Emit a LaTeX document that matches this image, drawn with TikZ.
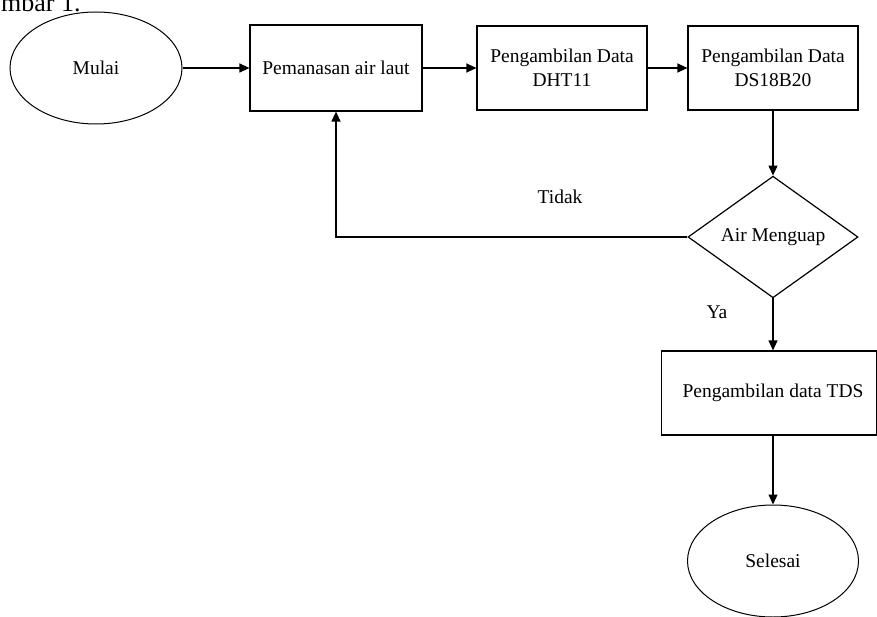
\documentclass[tikz,border=0pt]{standalone}
\usepackage{fontspec}
\setmainfont{Liberation Serif}
\usetikzlibrary{arrows.meta,shapes.geometric}
\begin{document}
\begin{tikzpicture}[x=1pt,y=-1pt,
  every node/.style={font=\fontsize{19.5}{24}\selectfont, align=center},
  box/.style={draw, line width=1.2pt, inner sep=0pt},
  oval/.style={draw, ellipse, line width=1pt, inner sep=0pt},
  flow/.style={line width=1.2pt, -{Triangle[length=10pt,width=9pt]}},
  plain/.style={line width=1.2pt}
]
\useasboundingbox (0,0) rectangle (877,617);
\begin{scope}
\clip (0,0) rectangle (877,617);
\node[anchor=base west, font=\fontsize{26}{28}\selectfont, inner sep=0pt] (cap) at (1,12) {mbar 1.};
\node[oval, minimum width=172pt, minimum height=112pt] (mulai) at (96,68) {Mulai};
\node[box, minimum width=172pt, minimum height=86pt] (heat) at (336,68) {Pemanasan air laut};
\node[box, minimum width=170pt, minimum height=84pt] (dht) at (562,68) {Pengambilan Data\\DHT11};
\node[box, minimum width=170pt, minimum height=84pt] (ds) at (773,68) {Pengambilan Data\\DS18B20};
\node[diamond, draw, line width=1.2pt, minimum width=170pt, minimum height=112pt, inner sep=0pt] (dec) at (773,237) {Air Menguap};
\node[box, minimum width=215pt, minimum height=84pt, anchor=west] (tds) at (661,393) {};
\node (tdst) at (773,393) {Pengambilan data TDS};
\node[oval, minimum width=171pt, minimum height=112pt] (selesai) at (773,561) {Selesai};
\node (tidak) at (560,197) {Tidak};
\node (ya) at (717,312) {Ya};
\coordinate (bend) at (dec.west -| heat.south);
\draw[flow] (mulai.east) -- (heat.west);
\draw[flow] (heat.east) -- (dht.west);
\draw[flow] (dht.east) -- (ds.west);
\draw[flow] (ds.south) -- (dec.north);
\draw[flow] (dec.west) -- (bend) -- (heat.south);
\draw[flow] (dec.south) -- (tds.north -| dec.south);
\draw[flow] (tds.south -| dec.south) -- (selesai.north);
\end{scope}
\end{tikzpicture}
\end{document}
